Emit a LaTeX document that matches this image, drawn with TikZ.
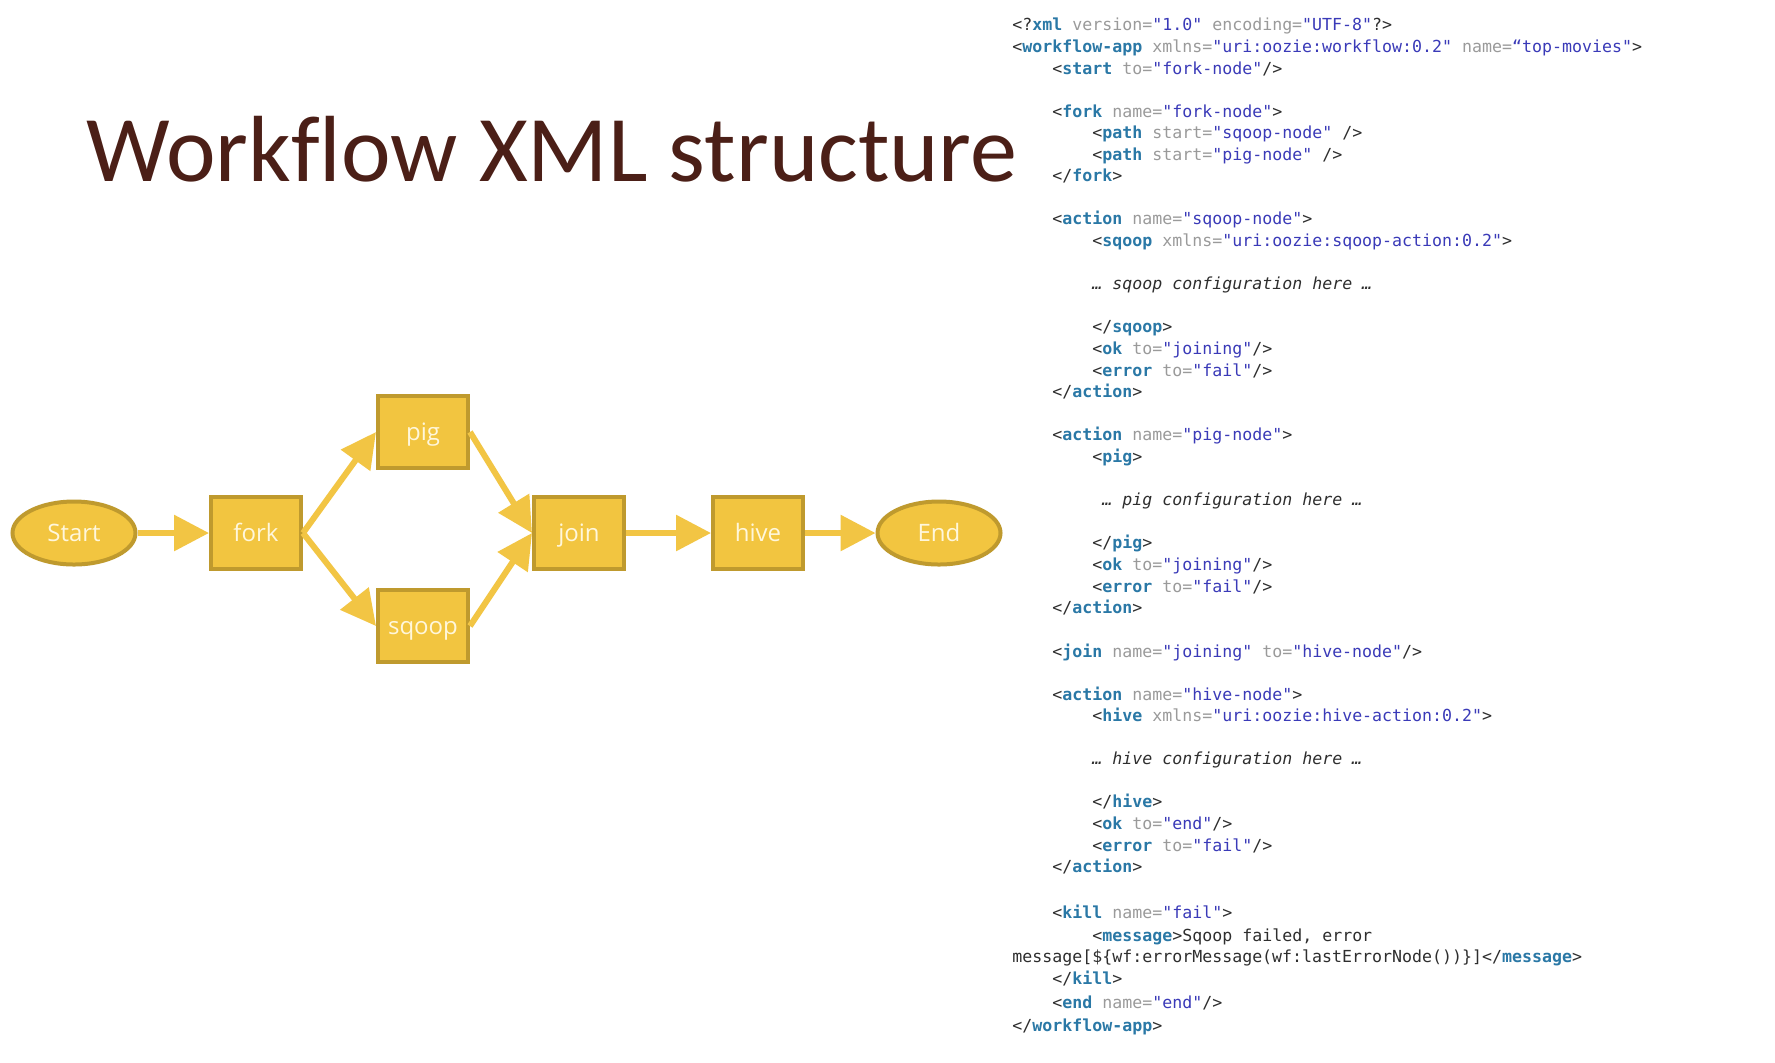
\documentclass[tikz,border=0pt]{standalone}
\usepackage{fontspec}
\usetikzlibrary{arrows.meta,shapes.geometric}
\newfontfamily\codefont{DejaVu Sans Mono}
\newfontfamily\titlefont{Carlito}[Ligatures={NoCommon}]
\newfontfamily\nodefont{Open Sans}
\definecolor{tagc}{HTML}{2A78A6}
\definecolor{attc}{HTML}{9A9A9A}
\definecolor{valc}{HTML}{3A3AB8}
\definecolor{punc}{HTML}{2E2E2E}
\definecolor{titlec}{HTML}{4B1F17}
\definecolor{boxfill}{HTML}{F2C540}
\definecolor{boxline}{HTML}{BF9A2E}
\definecolor{arrowc}{HTML}{F2C544}
\definecolor{nodetext}{HTML}{FFF7DC}
\newcommand\tg[1]{{\color{tagc}\bfseries #1}}
\newcommand\at[1]{{\color{attc}#1}}
\newcommand\vl[1]{{\color{valc}#1}}
\newcommand\cm[1]{{\itshape #1}}
\begin{document}
\begin{tikzpicture}[x=0.5pt,y=-0.5pt,
  codeline/.style={anchor=base west,inner sep=0pt,text=punc,font=\codefont\fontsize{8.3pt}{10pt}\selectfont},
  nodelabel/.style={text=nodetext,font=\nodefont\fontsize{12pt}{14pt}\selectfont,text height=0.88em,text depth=0pt,inner sep=0pt},
  boxnode/.style={nodelabel,draw=boxline,fill=boxfill,line width=2pt,minimum width=45pt,minimum height=36pt},
  ovalnode/.style={nodelabel,ellipse,draw=boxline,fill=boxfill,line width=2pt,minimum width=61.5pt,minimum height=31.5pt},
  flow/.style={draw=arrowc,line width=3pt,-{Triangle[length=17.5pt,width=17.5pt]}}]
\fill[white] (0,0) rectangle (1775,1062);
\useasboundingbox (0,0) rectangle (1775,1062);

% title
\node[anchor=base west,inner sep=0pt,text=titlec,font=\titlefont\fontsize{47pt}{56pt}\selectfont] (title) at (86,181) {Workflow XML structure};

% diagram
\node[ovalnode] (start) at (74,533) {Start};
\node[boxnode] (fork) at (256,533) {fork};
\node[boxnode] (pig) at (423,432) {pig};
\node[boxnode] (sqoop) at (423,626) {sqoop};
\node[boxnode] (join) at (579,533) {join};
\node[boxnode] (hive) at (758,533) {hive};
\node[ovalnode] (end) at (939,533) {End};

\draw[flow] (start.east) -- (fork.west);
\draw[flow] (fork.east) -- (pig.west);
\draw[flow] (fork.east) -- (sqoop.west);
\draw[flow] (pig.east) -- (join.west);
\draw[flow] (sqoop.east) -- (join.west);
\draw[flow] (join.east) -- (hive.west);
\draw[flow] (hive.east) -- (end.west);

% code
\node[codeline] (l1) at (1012,30) {<?\tg{xml} \at{version=}\vl{"1.0"} \at{encoding=}\vl{"UTF-8"}?>};
\node[codeline] (l2) at (1012,52.5) {<\tg{workflow-app} \at{xmlns=}\vl{"uri:oozie:workflow:0.2"} \at{name=}\vl{“top-movies"}>};
\node[codeline] (l3) at (1052,74) {<\tg{start} \at{to=}\vl{"fork-node"}/>};
\node[codeline] (l5) at (1052,117) {<\tg{fork} \at{name=}\vl{"fork-node"}>};
\node[codeline] (l6) at (1092,138.5) {<\tg{path} \at{start=}\vl{"sqoop-node"} />};
\node[codeline] (l7) at (1092,160) {<\tg{path} \at{start=}\vl{"pig-node"} />};
\node[codeline] (l8) at (1052,181.5) {</\tg{fork}>};
\node[codeline] (l10) at (1052,224.5) {<\tg{action} \at{name=}\vl{"sqoop-node"}>};
\node[codeline] (l11) at (1092,246) {<\tg{sqoop} \at{xmlns=}\vl{"uri:oozie:sqoop-action:0.2"}>};
\node[codeline] (l13) at (1092,289) {\cm{… sqoop configuration here …}};
\node[codeline] (l15) at (1092,332) {</\tg{sqoop}>};
\node[codeline] (l16) at (1092,354.5) {<\tg{ok} \at{to=}\vl{"joining"}/>};
\node[codeline] (l17) at (1092,376) {<\tg{error} \at{to=}\vl{"fail"}/>};
\node[codeline] (l18) at (1052,397.5) {</\tg{action}>};
\node[codeline] (l20) at (1052,440.5) {<\tg{action} \at{name=}\vl{"pig-node"}>};
\node[codeline] (l21) at (1092,462) {<\tg{pig}>};
\node[codeline] (l23) at (1102,505) {\cm{… pig configuration here …}};
\node[codeline] (l25) at (1092,548) {</\tg{pig}>};
\node[codeline] (l26) at (1092,570.5) {<\tg{ok} \at{to=}\vl{"joining"}/>};
\node[codeline] (l27) at (1092,592) {<\tg{error} \at{to=}\vl{"fail"}/>};
\node[codeline] (l28) at (1052,613.5) {</\tg{action}>};
\node[codeline] (l30) at (1052,657) {<\tg{join} \at{name=}\vl{"joining"} \at{to=}\vl{"hive-node"}/>};
\node[codeline] (l32) at (1052,700) {<\tg{action} \at{name=}\vl{"hive-node"}>};
\node[codeline] (l33) at (1092,721.5) {<\tg{hive} \at{xmlns=}\vl{"uri:oozie:hive-action:0.2"}>};
\node[codeline] (l35) at (1092,764.5) {\cm{… hive configuration here …}};
\node[codeline] (l37) at (1092,807.5) {</\tg{hive}>};
\node[codeline] (l38) at (1092,829) {<\tg{ok} \at{to=}\vl{"end"}/>};
\node[codeline] (l39) at (1092,851.5) {<\tg{error} \at{to=}\vl{"fail"}/>};
\node[codeline] (l40) at (1052,872) {</\tg{action}>};
\node[codeline] (l42) at (1052,918.5) {<\tg{kill} \at{name=}\vl{"fail"}>};
\node[codeline] (l43) at (1092,941) {<\tg{message}>Sqoop failed, error};
\node[codeline] (l44) at (1012,962.5) {message[\$\{wf:errorMessage(wf:lastErrorNode())\}]</\tg{message}>};
\node[codeline] (l45) at (1052,984) {</\tg{kill}>};
\node[codeline] (l46) at (1052,1008) {<\tg{end} \at{name=}\vl{"end"}/>};
\node[codeline] (l47) at (1012,1031.5) {</\tg{workflow-app}>};
\end{tikzpicture}
\end{document}
